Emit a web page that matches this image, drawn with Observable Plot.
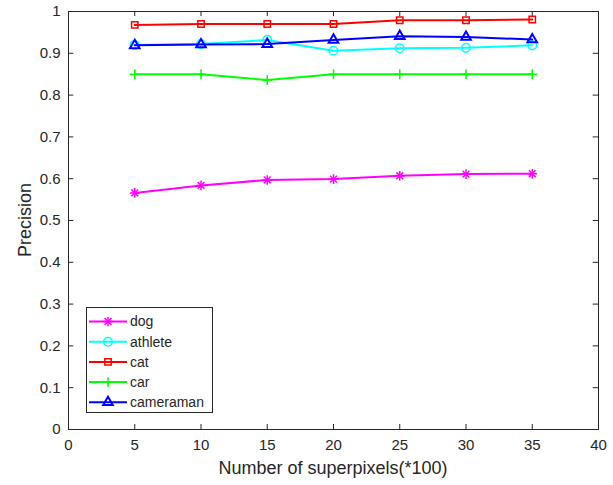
<!DOCTYPE html>
<html><head><meta charset="utf-8">
<script src="https://cdn.jsdelivr.net/npm/d3@7"></script>
<script src="https://cdn.jsdelivr.net/npm/@observablehq/plot@0.6"></script>
<style>body{margin:0;background:#fff;} </style>
</head><body><div id="chart"></div>
<script>
const xs = [5, 10, 15, 20, 25, 30, 35];
const dog = [0.566, 0.584, 0.597, 0.599, 0.607, 0.611, 0.612];
const athlete = [0.920, 0.922, 0.932, 0.906, 0.912, 0.913, 0.919];
const cat = [0.968, 0.970, 0.970, 0.970, 0.979, 0.979, 0.981];
const car = [0.850, 0.850, 0.836, 0.850, 0.850, 0.850, 0.850];
const cameraman = [0.919, 0.921, 0.922, 0.932, 0.941, 0.939, 0.933];
const seriesNames = ["dog", "athlete", "cat", "car", "cameraman"];
const seriesValues = [dog, athlete, cat, car, cameraman];
const colors = ["#ff00ff", "#00ffff", "#ff0000", "#00ff00", "#0000ff"];
const symbols = [["plus", "times"], ["circle"], ["square"], ["plus"], ["triangle2"]];
const symbolR = [3.2, 4.3, 3.6, 3.3, 4.6];
const xTicks = [0, 5, 10, 15, 20, 25, 30, 35, 40];
const yTicks = [0, 0.1, 0.2, 0.3, 0.4, 0.5, 0.6, 0.7, 0.8, 0.9, 1];
const xLabel = "Number of superpixels(*100)";
const yLabel = "Precision";

const FONT = "'Liberation Sans', Arial, sans-serif";
const TXT = "#262626";

const marks = [
  Plot.frame({stroke: TXT, strokeWidth: 1}),
  Plot.ruleX(xTicks, {x: d => d, y1: 0, y2: 0.012, stroke: TXT}),
  Plot.ruleX(xTicks, {x: d => d, y1: 1, y2: 0.988, stroke: TXT}),
  Plot.ruleY(yTicks, {y: d => d, x1: 0, x2: 0.4, stroke: TXT}),
  Plot.ruleY(yTicks, {y: d => d, x1: 40, x2: 39.6, stroke: TXT})
];
seriesNames.forEach((name, i) => {
  const rows = xs.map((x, j) => ({x, y: seriesValues[i][j]}));
  marks.push(Plot.line(rows, {x: "x", y: "y", stroke: colors[i], strokeWidth: 2}));
  symbols[i].forEach(sym => {
    marks.push(Plot.dot(rows, {x: "x", y: "y", symbol: () => sym, r: symbolR[i], stroke: colors[i], fill: "none", strokeWidth: i === 4 ? 2 : 1.5}));
  });
});

const chart = Plot.plot({
  width: 613, height: 485,
  marginLeft: 68, marginRight: 15, marginTop: 11, marginBottom: 56,
  style: {fontFamily: FONT, fontSize: "15px", color: TXT, background: "white"},
  x: {domain: [0, 40], ticks: xTicks, tickSize: 0, tickPadding: 10, label: null},
  y: {domain: [0, 1], ticks: yTicks, tickSize: 0, tickPadding: 8, label: null, tickFormat: d => String(+d.toFixed(1))},
  symbol: {type: "identity"},
  marks
});
document.getElementById("chart").appendChild(chart);

const svg = d3.select(chart);
svg.append("text").attr("x", 333).attr("y", 474).attr("text-anchor", "middle")
  .attr("fill", TXT).style("font-family", FONT).style("font-size", "18px").text(xLabel);
svg.append("text").attr("transform", "translate(31,220) rotate(-90)").attr("text-anchor", "middle")
  .attr("fill", TXT).style("font-family", FONT).style("font-size", "18px").text(yLabel);

// legend
const lg = svg.append("g");
lg.append("rect").attr("x", 86.5).attr("y", 307.5).attr("width", 126).attr("height", 105)
  .attr("fill", "white").attr("stroke", TXT);
const sym = {plus: d3.symbolPlus, times: d3.symbolTimes, circle: d3.symbolCircle, square: d3.symbolSquare, triangle2: d3.symbolTriangle2};
seriesNames.forEach((name, i) => {
  const y = 321.5 + i * 20.2;
  lg.append("line").attr("x1", 89).attr("x2", 127).attr("y1", y).attr("y2", y).attr("stroke", colors[i]).attr("stroke-width", 2);
  symbols[i].forEach(s => {
    lg.append("path").attr("transform", `translate(108,${y})`)
      .attr("d", d3.symbol(sym[s], symbolR[i] * symbolR[i] * Math.PI)())
      .attr("fill", "none").attr("stroke", colors[i]).attr("stroke-width", i === 4 ? 2 : 1.5);
  });
  lg.append("text").attr("x", 130).attr("y", y).attr("dy", "0.35em").attr("text-anchor", "start").attr("fill", TXT)
    .style("font-family", FONT).style("font-size", "14px").text(name);
});
</script></body></html>
